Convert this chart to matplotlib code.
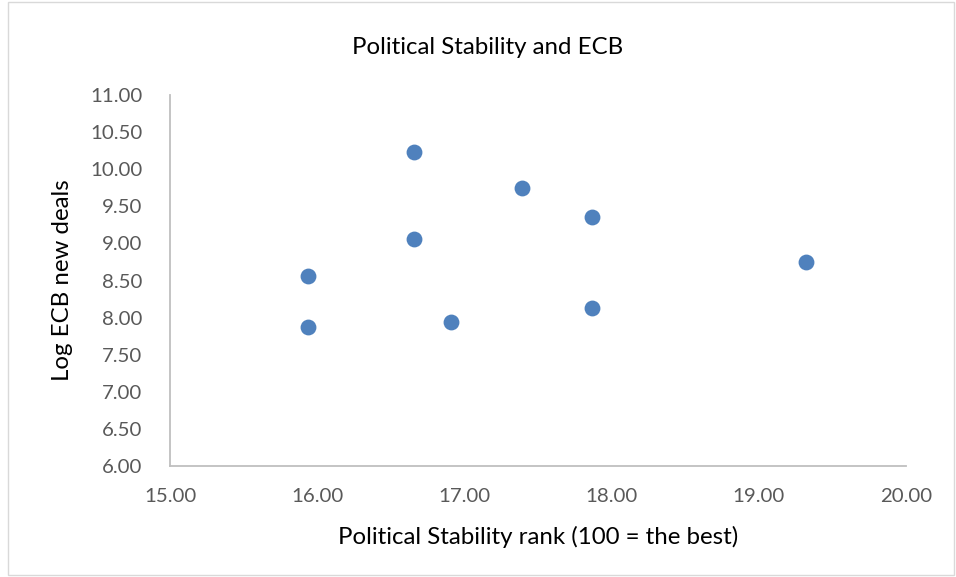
import matplotlib
matplotlib.use("Agg")
import matplotlib.pyplot as plt
from matplotlib.patches import Rectangle

x_rank = [15.94, 15.94, 16.66, 16.66, 16.91, 17.39, 17.87, 17.87, 19.32]
y_log = [8.56, 7.88, 10.23, 9.06, 7.94, 9.75, 9.35, 8.13, 8.75]
x_ticks = [15.0, 16.0, 17.0, 18.0, 19.0, 20.0]
y_ticks = [6.0, 6.5, 7.0, 7.5, 8.0, 8.5, 9.0, 9.5, 10.0, 10.5, 11.0]

plt.rcParams['font.family'] = ['Lato', 'DejaVu Sans']

fig = plt.figure(figsize=(9.56, 5.77), dpi=100)
ax = fig.add_axes([170/956, 111/577, 736/956, 371/577])

ax.scatter(x_rank, y_log, s=130, color='#4F81BD', zorder=3, linewidths=0)

ax.set_xlim(15, 20)
ax.set_ylim(6, 11)
ax.set_xticks(x_ticks)
ax.set_yticks(y_ticks)
ax.set_xticklabels([f"{v:.2f}" for v in x_ticks])
ax.set_yticklabels([f"{v:.2f}" for v in y_ticks])
ax.tick_params(axis='both', length=0, labelsize=14.7, colors='#595959')
ax.tick_params(axis='x', pad=16)
ax.tick_params(axis='y', pad=20)

for s in ['top', 'right']:
    ax.spines[s].set_visible(False)
for s in ['left', 'bottom']:
    ax.spines[s].set_color('#BFBFBF')
    ax.spines[s].set_linewidth(1.3)

ax.set_xlabel('Political Stability rank (100 = the best)', fontsize=17.3, color='#000000', labelpad=15)
ax.set_ylabel('Log ECB new deals', fontsize=17.3, color='#000000', labelpad=12)
fig.text(488/956, 1 - 47/577, 'Political Stability and ECB', ha='center', va='center', fontsize=17.3, color='#000000')

fig.patches.append(Rectangle((8/956, 2/577), 946/956, 573/577, transform=fig.transFigure,
                             fill=False, edgecolor='#D9D9D9', linewidth=1))

fig.savefig('out.png', dpi=100)
